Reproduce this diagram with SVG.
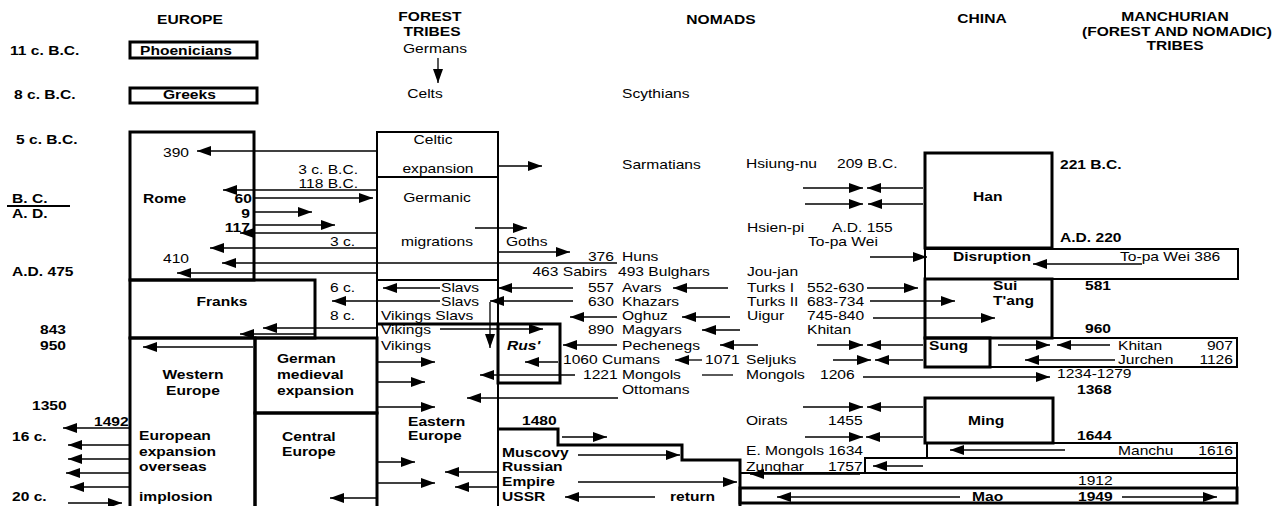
<svg xmlns="http://www.w3.org/2000/svg" width="1281" height="506" viewBox="0 0 1281 506">
<style>
.t{font-family:"Liberation Sans",Arial,sans-serif;font-size:12px;fill:#000;transform-box:fill-box;transform-origin:0 0;transform:translateY(1px) scaleX(1.3)}
.b{font-weight:bold}
.i{font-style:italic}
.m{text-anchor:middle;transform-origin:50% 0}
.e{text-anchor:end;transform-origin:100% 0}
.box{fill:none;stroke:#000;stroke-width:3}
.bx2{fill:none;stroke:#000;stroke-width:2}
.ln{fill:none;stroke:#000;stroke-width:1.3}
.a{fill:none;stroke:#000;stroke-width:1.3;marker-end:url(#ah)}
</style>
<defs>
<marker id="ah" viewBox="0 0 14 11" refX="14" refY="5.5" markerWidth="14" markerHeight="11" markerUnits="userSpaceOnUse" orient="auto"><path d="M0,0.5 L14,5.5 L0,10.5 z" fill="#000"/></marker>
</defs>
<rect width="1281" height="506" fill="#fff"/>

<g id="headers">
<text class="t b m" x="190" y="23">EUROPE</text>
<text class="t b m" x="430" y="20">FOREST</text>
<text class="t b m" x="432" y="35">TRIBES</text>
<text class="t m" x="435" y="52">Germans</text>
<text class="t m" x="425" y="97">Celts</text>
<text class="t b m" x="721" y="23">NOMADS</text>
<text class="t b m" x="982" y="22">CHINA</text>
<text class="t b m" x="1175" y="20">MANCHURIAN</text>
<text class="t b m" x="1177" y="35">(FOREST AND NOMADIC)</text>
<text class="t b m" x="1175" y="49">TRIBES</text>
</g>

<g id="row-labels">
<text class="t b" x="10" y="54">11 c. B.C.</text>
<text class="t b" x="14" y="98">8 c. B.C.</text>
<text class="t b" x="16" y="143">5 c. B.C.</text>
<text class="t b" x="12" y="202">B. C.</text>
<line x1="7" y1="206" x2="70" y2="206" stroke="#000" stroke-width="2"/>
<text class="t b" x="12" y="217">A. D.</text>
<text class="t b" x="12" y="275">A.D. 475</text>
<text class="t b" x="40" y="333">843</text>
<text class="t b" x="40" y="349">950</text>
<text class="t b" x="32" y="409">1350</text>
<text class="t b" x="12" y="440">16 c.</text>
<text class="t b" x="12" y="500">20 c.</text>
</g>

<g id="phoenicians"><rect class="box" x="130" y="42" width="127" height="16"/><text class="t b" x="140" y="54">Phoenicians</text></g>
<g id="greeks"><rect class="box" x="130" y="88" width="127" height="15"/><text class="t b" x="163" y="98">Greeks</text></g>
<g id="rome"><rect class="box" x="130" y="132" width="124" height="148"/>
<text class="t" x="163" y="156">390</text>
<text class="t b" x="143" y="202">Rome</text>
<text class="t b e" x="252" y="202">60</text>
<text class="t b e" x="250" y="217">9</text>
<text class="t b e" x="250" y="231">117</text>
<text class="t" x="163" y="262">410</text>
</g>
<g id="franks"><rect class="box" x="130" y="280" width="185" height="58"/><text class="t b m" x="222" y="305">Franks</text></g>
<g id="western-europe"><rect class="box" x="130" y="338" width="125" height="172"/>
<text class="t b m" x="193" y="378">Western</text>
<text class="t b m" x="193" y="394">Europe</text>
<text class="t b" x="139" y="439">European</text>
<text class="t b" x="139" y="455">expansion</text>
<text class="t b" x="139" y="470">overseas</text>
<text class="t b" x="139" y="500">implosion</text>
<text class="t b" x="94" y="425">1492</text>
</g>
<g id="german-medieval"><rect class="box" x="255" y="338" width="122" height="75"/>
<text class="t b" x="277" y="362">German</text>
<text class="t b" x="277" y="378">medieval</text>
<text class="t b" x="277" y="394">expansion</text>
</g>
<g id="central-europe"><rect class="box" x="255" y="413" width="122" height="97"/>
<text class="t b" x="282" y="440">Central</text>
<text class="t b" x="282" y="455">Europe</text>
</g>

<g id="celtic"><rect class="bx2" x="377" y="132" width="121" height="45"/>
<text class="t m" x="433" y="143">Celtic</text>
<text class="t m" x="438" y="172">expansion</text>
<text class="t e" x="358" y="173">3 c. B.C.</text>
<text class="t e" x="358" y="187">118 B.C.</text>
</g>
<g id="germanic">
<path class="bx2" d="M377,177 V506 M498,177 V506 M377,280 H498"/>
<text class="t m" x="437" y="201">Germanic</text>
<text class="t m" x="437" y="245">migrations</text>
<text class="t" x="330" y="245">3 c.</text>
<text class="t" x="506" y="245">Goths</text>
</g>
<g id="slavs">
<text class="t" x="330" y="291">6 c.</text>
<text class="t" x="441" y="291">Slavs</text>
<text class="t" x="441" y="305">Slavs</text>
<text class="t" x="330" y="319">8 c.</text>
<text class="t" x="381" y="319">Vikings Slavs</text>
<text class="t" x="381" y="333">Vikings</text>
<text class="t" x="381" y="349">Vikings</text>
<path class="box" d="M377,324 H498"/>
</g>
<g id="rus"><rect class="box" x="498" y="324" width="62" height="59"/><text class="t b i" x="507" y="349">Rus'</text></g>
<g id="eastern-europe">
<text class="t b" x="408" y="425">Eastern</text>
<text class="t b" x="408" y="439">Europe</text>
</g>
<g id="russia">
<path class="box" d="M498,429 H558 V445 H682 V460 H740 V506"/>
<text class="t b" x="522" y="424">1480</text>
<text class="t b" x="502" y="456">Muscovy</text>
<text class="t b" x="502" y="470">Russian</text>
<text class="t b" x="502" y="485">Empire</text>
<text class="t b" x="502" y="500">USSR</text>
<text class="t b" x="670" y="500">return</text>
</g>

<g id="nomads">
<text class="t" x="622" y="97">Scythians</text>
<text class="t" x="622" y="168">Sarmatians</text>
<text class="t e" x="614" y="260">376</text><text class="t" x="622" y="260">Huns</text>
<text class="t e" x="607" y="275">463 Sabirs</text><text class="t" x="618" y="275">493 Bulghars</text>
<text class="t e" x="614" y="291">557</text><text class="t" x="622" y="291">Avars</text>
<text class="t e" x="614" y="305">630</text><text class="t" x="622" y="305">Khazars</text>
<text class="t" x="622" y="319">Oghuz</text>
<text class="t e" x="614" y="333">890</text><text class="t" x="622" y="333">Magyars</text>
<text class="t" x="622" y="349">Pechenegs</text>
<text class="t" x="563" y="363">1060 Cumans</text>
<text class="t" x="583" y="378">1221</text><text class="t" x="622" y="378">Mongols</text>
<text class="t" x="622" y="393">Ottomans</text>
<text class="t" x="746" y="167">Hsiung-nu</text><text class="t" x="837" y="167">209 B.C.</text>
<text class="t" x="747" y="231">Hsien-pi</text><text class="t" x="832" y="231">A.D. 155</text>
<text class="t" x="808" y="245">To-pa Wei</text>
<text class="t" x="747" y="275">Jou-jan</text>
<text class="t" x="747" y="291">Turks I</text><text class="t" x="807" y="291">552-630</text>
<text class="t" x="747" y="305">Turks II</text><text class="t" x="807" y="305">683-734</text>
<text class="t" x="747" y="319">Uigur</text><text class="t" x="807" y="319">745-840</text>
<text class="t" x="807" y="333">Khitan</text>
<text class="t" x="705" y="363">1071</text><text class="t" x="746" y="363">Seljuks</text>
<text class="t" x="746" y="378">Mongols</text><text class="t" x="820" y="378">1206</text>
<text class="t" x="746" y="424">Oirats</text><text class="t" x="828" y="424">1455</text>
<text class="t" x="746" y="454">E. Mongols 1634</text>
<text class="t" x="746" y="470">Zunghar</text><text class="t" x="828" y="470">1757</text>
</g>

<g id="han"><rect class="box" x="925" y="153" width="127" height="95"/>
<text class="t b" x="973" y="200">Han</text>
<text class="t b" x="1060" y="168">221 B.C.</text>
<text class="t b" x="1060" y="241">A.D. 220</text>
</g>
<g id="disruption"><rect class="bx2" x="925" y="249" width="313" height="30"/>
<text class="t b" x="953" y="260">Disruption</text>
<text class="t" x="1120" y="260">To-pa Wei 386</text>
</g>
<g id="sui-tang"><rect class="box" x="925" y="279" width="127" height="59"/>
<text class="t b" x="993" y="289">Sui</text>
<text class="t b" x="993" y="304">T'ang</text>
<text class="t b" x="1085" y="289">581</text>
<text class="t b" x="1085" y="332">960</text>
</g>
<g id="sung"><rect class="box" x="925" y="338" width="65" height="29"/><text class="t b" x="929" y="349">Sung</text></g>
<g id="khitan-jurchen"><rect class="bx2" x="990" y="338" width="247" height="29"/>
<text class="t" x="1118" y="349">Khitan</text><text class="t e" x="1233" y="349">907</text>
<text class="t" x="1118" y="363">Jurchen</text><text class="t e" x="1233" y="363">1126</text>
<text class="t" x="1057" y="377">1234-1279</text>
<text class="t b" x="1077" y="393">1368</text>
</g>
<g id="ming"><rect class="box" x="925" y="398" width="128" height="45"/>
<text class="t b" x="968" y="424">Ming</text>
<text class="t b" x="1077" y="439">1644</text>
</g>
<g id="manchu"><rect class="bx2" x="927" y="443" width="310" height="15"/>
<text class="t" x="1118" y="454">Manchu</text><text class="t e" x="1233" y="454">1616</text>
</g>
<g id="zunghar-band"><rect class="bx2" x="865" y="458" width="372" height="15"/></g>
<g id="band-1912"><rect class="bx2" x="740" y="473" width="497" height="15"/><text class="t" x="1078" y="484">1912</text></g>
<g id="mao"><rect class="box" x="740" y="488" width="497" height="15"/>
<text class="t b" x="972" y="500">Mao</text><text class="t b" x="1078" y="500">1949</text>
</g>

<g id="connectors">
<line class="a" x1="438" y1="58" x2="438" y2="83"/>
<line class="a" x1="377" y1="151" x2="197" y2="151"/>
<line class="a" x1="498" y1="166" x2="542" y2="166"/>
<line class="a" x1="377" y1="190" x2="223" y2="190"/>
<line class="a" x1="255" y1="198" x2="373" y2="198"/>
<line class="a" x1="255" y1="212" x2="312" y2="212"/>
<line class="a" x1="255" y1="225" x2="335" y2="225"/>
<line class="a" x1="377" y1="233" x2="240" y2="233"/>
<line class="a" x1="377" y1="248" x2="210" y2="248"/>
<line class="a" x1="617" y1="263" x2="222" y2="263"/>
<line class="a" x1="377" y1="273" x2="177" y2="273"/>
<line class="a" x1="475" y1="228" x2="527" y2="228"/>
<line class="a" x1="498" y1="252" x2="570" y2="252"/>
<line class="a" x1="440" y1="288" x2="383" y2="288"/>
<line class="a" x1="440" y1="301" x2="332" y2="301"/>
<line class="a" x1="573" y1="288" x2="498" y2="288"/>
<line class="a" x1="573" y1="301" x2="490" y2="301"/>
<line class="a" x1="490" y1="302" x2="490" y2="348"/>
<line class="a" x1="617" y1="317" x2="570" y2="317"/>
<line class="a" x1="440" y1="329" x2="543" y2="329"/>
<line class="a" x1="377" y1="328" x2="263" y2="328"/>
<line class="a" x1="315" y1="334" x2="240" y2="334"/>
<line class="a" x1="253" y1="347" x2="143" y2="347"/>
<line class="a" x1="617" y1="345" x2="563" y2="345"/>
<line class="a" x1="558" y1="362" x2="525" y2="362"/>
<line class="a" x1="575" y1="375" x2="480" y2="375"/>
<line class="a" x1="618" y1="398" x2="467" y2="398"/>
<line class="a" x1="378" y1="362" x2="435" y2="362"/>
<line class="a" x1="378" y1="382" x2="425" y2="382"/>
<line class="a" x1="378" y1="407" x2="435" y2="407"/>
<line class="a" x1="562" y1="437" x2="607" y2="437"/>
<line class="a" x1="578" y1="455" x2="680" y2="455"/>
<line class="a" x1="578" y1="482" x2="737" y2="482"/>
<line class="a" x1="655" y1="497" x2="565" y2="497"/>
<line class="a" x1="378" y1="462" x2="415" y2="462"/>
<line class="a" x1="378" y1="483" x2="435" y2="483"/>
<line class="a" x1="498" y1="472" x2="445" y2="472"/>
<line class="a" x1="498" y1="487" x2="455" y2="487"/>
<line class="a" x1="377" y1="498" x2="330" y2="498"/>
<line class="a" x1="130" y1="428" x2="63" y2="428"/>
<line class="a" x1="130" y1="445" x2="68" y2="445"/>
<line class="a" x1="130" y1="459" x2="68" y2="459"/>
<line class="a" x1="130" y1="473" x2="66" y2="473"/>
<line class="a" x1="130" y1="487" x2="70" y2="487"/>
<line class="a" x1="68" y1="503" x2="122" y2="503"/>
<line class="a" x1="728" y1="288" x2="673" y2="288"/>
<line class="a" x1="730" y1="317" x2="682" y2="317"/>
<line class="a" x1="740" y1="330" x2="702" y2="330"/>
<line class="a" x1="758" y1="345" x2="720" y2="345"/>
<line class="a" x1="702" y1="360" x2="675" y2="360"/>
<line class="ln" x1="702" y1="375" x2="733" y2="375"/>
<line class="a" x1="803" y1="188" x2="863" y2="188"/>
<line class="a" x1="923" y1="188" x2="867" y2="188"/>
<line class="a" x1="805" y1="204" x2="863" y2="204"/>
<line class="a" x1="923" y1="204" x2="868" y2="204"/>
<line class="a" x1="870" y1="257" x2="927" y2="257"/>
<line class="a" x1="867" y1="288" x2="918" y2="288"/>
<line class="a" x1="870" y1="301" x2="955" y2="301"/>
<line class="a" x1="873" y1="318" x2="995" y2="318"/>
<line class="a" x1="817" y1="345" x2="863" y2="345"/>
<line class="a" x1="923" y1="345" x2="867" y2="345"/>
<line class="a" x1="833" y1="360" x2="871" y2="360"/>
<line class="a" x1="923" y1="360" x2="875" y2="360"/>
<line class="a" x1="863" y1="377" x2="1050" y2="377"/>
<line class="a" x1="803" y1="407" x2="863" y2="407"/>
<line class="a" x1="923" y1="407" x2="867" y2="407"/>
<line class="a" x1="805" y1="437" x2="863" y2="437"/>
<line class="a" x1="923" y1="437" x2="866" y2="437"/>
<line class="a" x1="1065" y1="450" x2="950" y2="450"/>
<line class="a" x1="923" y1="466" x2="873" y2="466"/>
<line class="a" x1="860" y1="474" x2="750" y2="474"/>
<line class="a" x1="960" y1="497" x2="777" y2="497"/>
<line class="a" x1="1122" y1="497" x2="1217" y2="497"/>
<line class="a" x1="1142" y1="264" x2="1033" y2="264"/>
<line class="a" x1="998" y1="345" x2="1050" y2="345"/>
<line class="a" x1="1110" y1="345" x2="1057" y2="345"/>
<line class="a" x1="1115" y1="360" x2="1025" y2="360"/>
</g>
</svg>
